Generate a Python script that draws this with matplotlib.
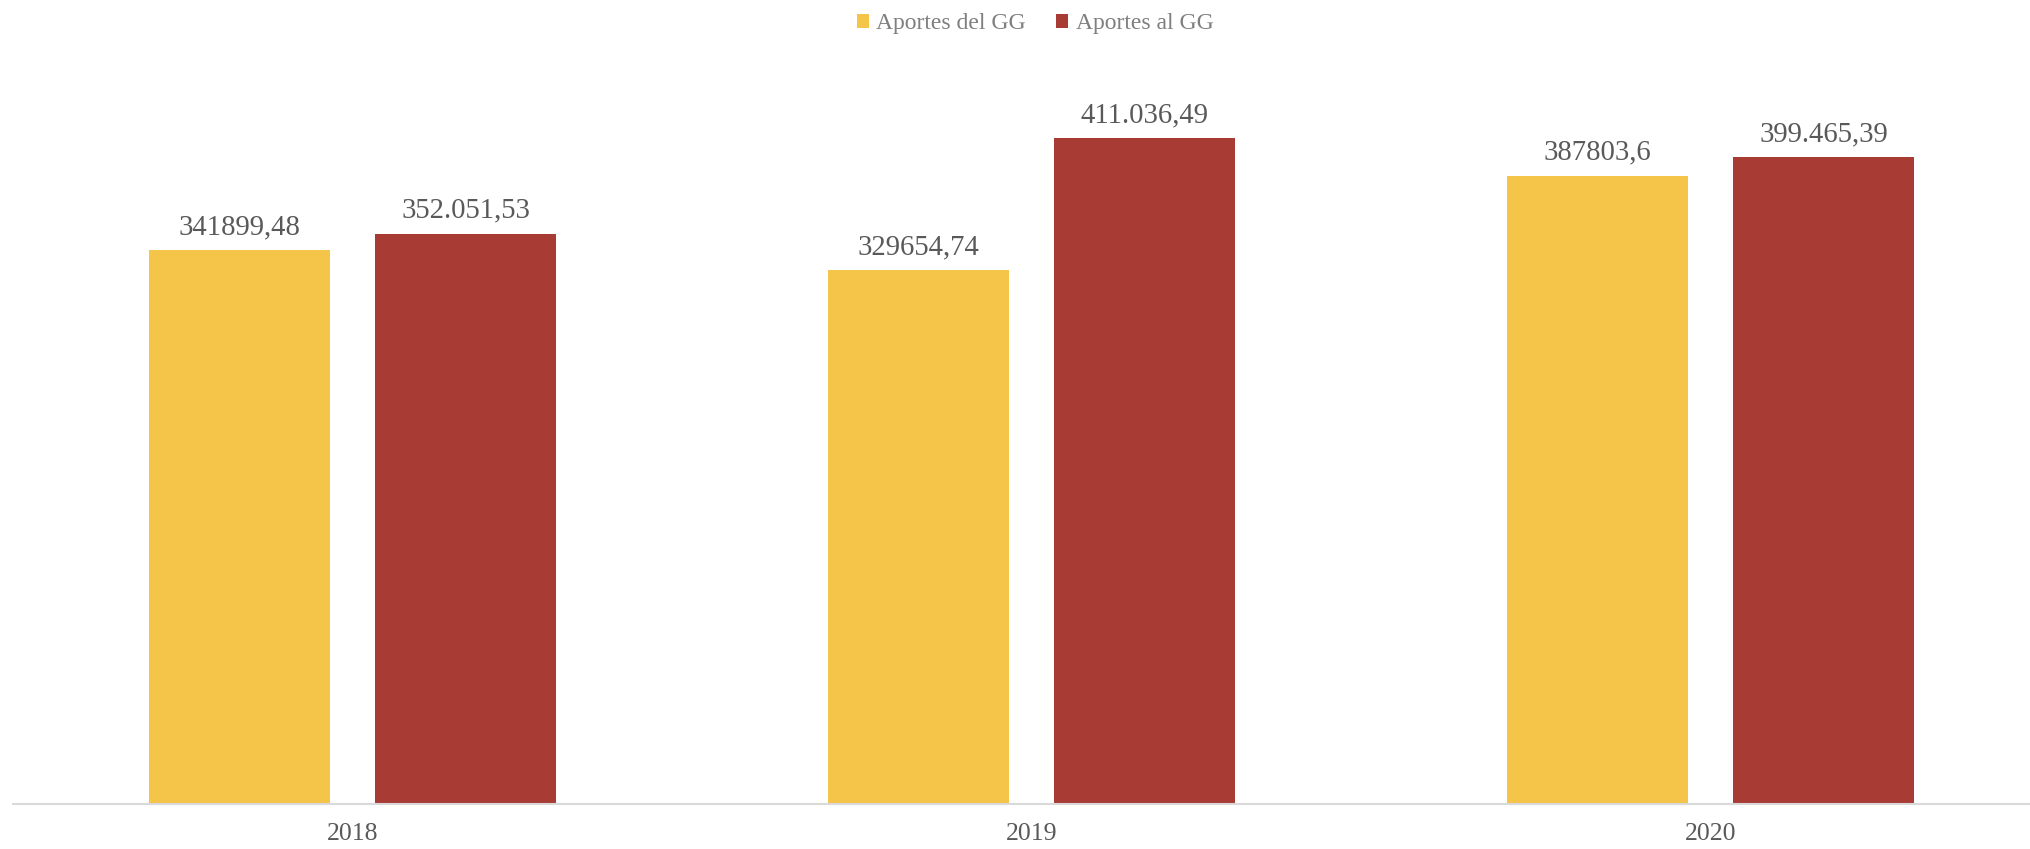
import matplotlib
matplotlib.use("Agg")
import matplotlib.pyplot as plt
import numpy as np

years = ["2018", "2019", "2020"]
aportes_del = [341899.48, 329654.74, 387803.6]
aportes_al = [352051.53, 411036.49, 399465.39]
labels_del = ["341899,48", "329654,74", "387803,6"]
labels_al = ["352.051,53", "411.036,49", "399.465,39"]

plt.rcParams['font.family'] = ['Liberation Serif', 'DejaVu Serif']

W, H = 2030, 849
fig = plt.figure(figsize=(W / 100, H / 100), dpi=100)
ax = fig.add_axes([13 / W, (H - 804) / H, (W - 13) / W, 729 / H])

x = np.arange(len(years))
bw = 0.2666
off = 0.1667
c_del = "#F5C54A"
c_al = "#A93B35"
b1 = ax.bar(x - off, aportes_del, bw, color=c_del, label="Aportes del GG")
b2 = ax.bar(x + off, aportes_al, bw, color=c_al, label="Aportes al GG")

for rects, labs in ((b1, labels_del), (b2, labels_al)):
    for r, t in zip(rects, labs):
        ax.annotate(t, (r.get_x() + r.get_width() / 2, r.get_height()),
                    xytext=(0, 11.5), textcoords="offset points",
                    ha="center", va="baseline", fontsize=20.7, color="#595959")

ax.set_xlim(-0.5, -0.5 + (W - 13) / 679)
ax.set_ylim(0, 450000)
ax.set_xticks(x)
ax.set_xticklabels(years, fontsize=18.5, color="#595959")
ax.tick_params(axis="x", length=0, pad=14)
ax.set_yticks([])
for s in ("top", "right", "left"):
    ax.spines[s].set_visible(False)
ax.spines["bottom"].set_color("#D9D9D9")
ax.spines["bottom"].set_linewidth(1.5)

leg = fig.legend(loc="center", bbox_to_anchor=(1035 / W, 1 - 24 / H), ncol=2,
                 frameon=False, fontsize=17, handlelength=0.53, handleheight=0.53,
                 handletextpad=0.3, columnspacing=1.27, labelcolor="#7F7F7F")

fig.savefig("out.png", dpi=100)
